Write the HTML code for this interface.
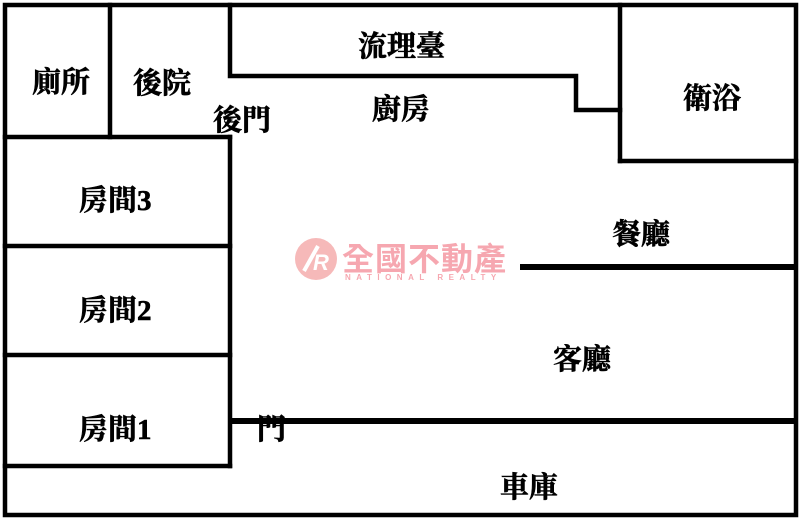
<!DOCTYPE html>
<html><head><meta charset="utf-8"><style>
html,body{margin:0;padding:0;background:#fff;width:800px;height:520px;overflow:hidden}
text{font-family:"Liberation Serif","Noto Serif CJK TC","Noto Sans CJK TC",serif;font-weight:bold;font-size:29px;fill:#000;stroke:#000;stroke-width:0.6}
</style></head><body>
<svg width="800" height="520" viewBox="0 0 800 520" xmlns="http://www.w3.org/2000/svg">
<g stroke="#000" stroke-width="4.5" fill="none" stroke-linecap="square">
<rect x="5" y="5" width="791" height="510"/>
<line x1="110" y1="5" x2="110" y2="137"/>
<line x1="5" y1="137" x2="230" y2="137"/>
<line x1="230" y1="137" x2="230" y2="466"/>
<line x1="5" y1="246" x2="230" y2="246"/>
<line x1="5" y1="355" x2="230" y2="355"/>
<line x1="5" y1="466" x2="230" y2="466"/>
<polyline points="230,5 230,76 576,76 576,110 620,110"/>
<line x1="620" y1="5" x2="620" y2="161"/>
<line x1="620" y1="161" x2="796" y2="161"/>
</g>
<line x1="520" y1="267" x2="796" y2="267" stroke="#000" stroke-width="6"/>
<line x1="232" y1="421" x2="796" y2="421" stroke="#000" stroke-width="6"/>
<text x="32" y="92">廁所</text>
<text x="133" y="93">後院</text>
<text x="213" y="130">後門</text>
<text x="358" y="56">流理臺</text>
<text x="372" y="119">廚房</text>
<text x="683" y="108">衛浴</text>
<text x="79" y="210">房間3</text>
<text x="79" y="320">房間2</text>
<text x="79" y="439">房間1</text>
<text x="612" y="244">餐廳</text>
<text x="553" y="369">客廳</text>
<text x="257" y="439">門</text>
<text x="500" y="497">車庫</text>
<g opacity="0.55">
<circle cx="316" cy="259" r="21" fill="#f08080"/>
<line x1="304" y1="271" x2="318" y2="246" stroke="#fff" stroke-width="4"/>
<text x="313" y="270" style="font-family:'Liberation Sans',sans-serif;font-size:22px;fill:#fff;stroke:none;font-style:italic">R</text>
<text x="342" y="270" style="font-family:'Liberation Sans','Noto Sans CJK TC',sans-serif;font-size:32px;fill:#f06070;stroke:none;letter-spacing:1px">全國不動產</text>
<text x="345" y="280" style="font-family:'Liberation Sans',sans-serif;font-size:8px;letter-spacing:5.5px;fill:#f06070;stroke:none">NATIONAL REALTY</text>
</g>
</svg>
</body></html>
